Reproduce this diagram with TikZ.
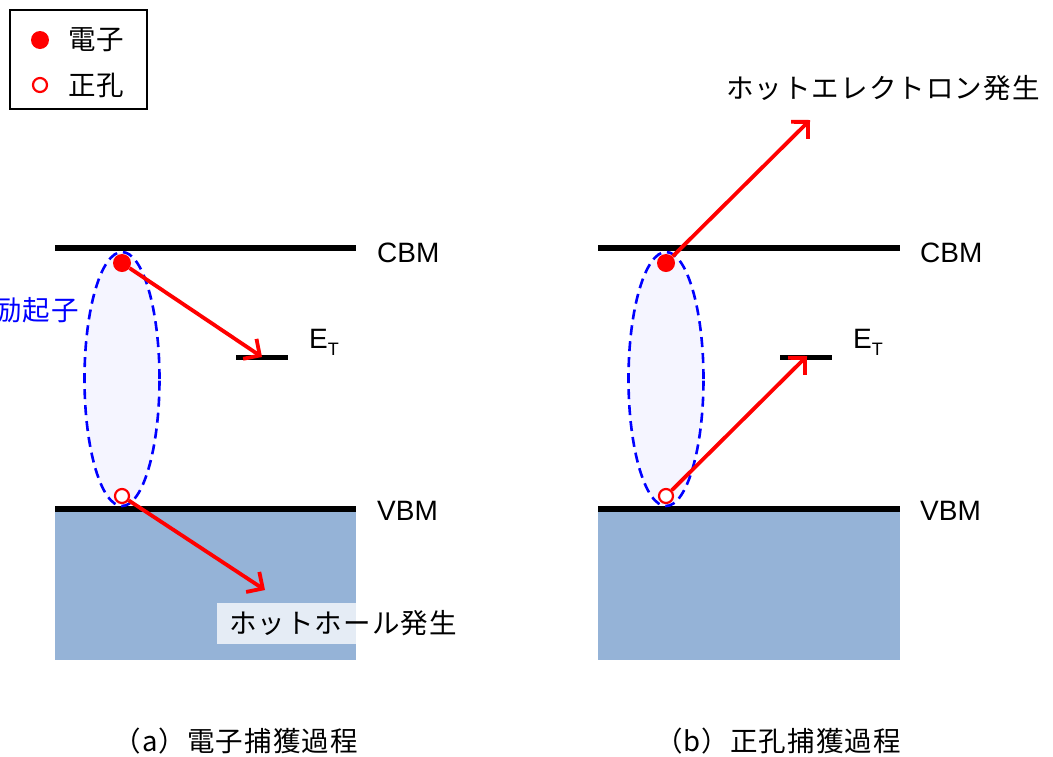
\documentclass[tikz,border=0pt]{standalone}
\usepackage{fontspec}
\setmainfont{Liberation Sans}
\newfontfamily\jp[LetterSpace=4]{Noto Sans CJK JP}
\usetikzlibrary{arrows.meta,shapes.geometric}
\definecolor{bandblue}{HTML}{95B3D7}
\definecolor{exfill}{HTML}{F5F5FF}
\begin{document}
\begin{tikzpicture}[x=1pt,y=-1pt,
  level/.style={line width=5.5pt},
  band/.style={fill=bandblue},
  exciton/.style={ellipse, draw=blue, dash pattern=on 10pt off 6pt, line width=2.6pt, fill=exfill, minimum width=75pt, minimum height=254pt, inner sep=0pt},
  elec/.style={circle, fill=red, minimum size=18pt, inner sep=0pt},
  hole/.style={circle, draw=red, fill=white, line width=2.2pt, minimum size=14pt, inner sep=0pt},
  jump/.style={draw=red, line width=3.8pt, -{Straight Barb[length=12pt,width=24pt]}},
  lbl/.style={font=\fontsize{28}{30}\selectfont, inner sep=0pt},
  jlbl/.style={font=\jp\fontsize{27.5}{30}\selectfont, inner sep=0pt}]
\useasboundingbox (0,0) rectangle (1053,756);
\clip (0,0) rectangle (1053,756);

% legend
\node[draw, line width=2pt, minimum width=137pt, minimum height=99pt, anchor=north west, inner sep=0pt] (legend) at (9,9) {};
\node[elec] (legE) at (40,40) {};
\node[hole] (legH) at (40,85) {};
\node[jlbl, anchor=west] (legEt) at (68,40) {電子};
\node[jlbl, anchor=west] (legHt) at (68,85) {正孔};

% ===== panel (a) =====
\fill[band] (55,509) rectangle (356,660);
\draw[level] (55,248) -- (356,248);
\draw[level] (55,509) -- (356,509);
\draw[level] (236,357.5) -- (288,357.5);
\node[lbl, anchor=west] (cbmA) at (377,253) {CBM};
\node[lbl, anchor=west] (vbmA) at (377,511) {VBM};
\node[lbl, anchor=west] (etA) at (309,342) {E\raisebox{-7pt}{\fontsize{18}{18}\selectfont T}};
\node[exciton] (exA) at (122,379) {};
\node[jlbl, text=blue, anchor=east] (exAt) at (79,310) {励起子};
\node[elec] (eA) at (122,263) {};
\node[hole] (hA) at (122,496) {};
\coordinate (tA) at (262,357);
\coordinate (hhA) at (265,590);
\draw[jump] (eA) -- (tA);
\node[jlbl, anchor=west, fill=white, fill opacity=0.76, text opacity=1, inner xsep=12pt, minimum height=41pt] (hhT) at (217,623.5) {ホットホール発生};
\draw[jump] (hA) -- (hhA);
\node[jlbl, anchor=east] (capA) at (358,741) {（a）電子捕獲過程};

% ===== panel (b) =====
\fill[band] (598,509) rectangle (900,660);
\draw[level] (598,248) -- (900,248);
\draw[level] (598,509) -- (900,509);
\draw[level] (780,357.5) -- (832,357.5);
\node[lbl, anchor=west] (cbmB) at (920,253) {CBM};
\node[lbl, anchor=west] (vbmB) at (920,511) {VBM};
\node[lbl, anchor=west] (etB) at (853,342) {E\raisebox{-7pt}{\fontsize{18}{18}\selectfont T}};
\node[exciton] (exB) at (666,379) {};
\node[elec] (eB) at (666,263) {};
\node[hole] (hB) at (666,496) {};
\coordinate (tB) at (807,356);
\coordinate (heB) at (810,120);
\draw[jump] (hB) -- (tB);
\draw[jump] (eB) -- (heB);
\node[jlbl, anchor=west] (heT) at (726,88) {ホットエレクトロン発生};
\node[jlbl, anchor=east] (capB) at (901,741) {（b）正孔捕獲過程};
\end{tikzpicture}
\end{document}
